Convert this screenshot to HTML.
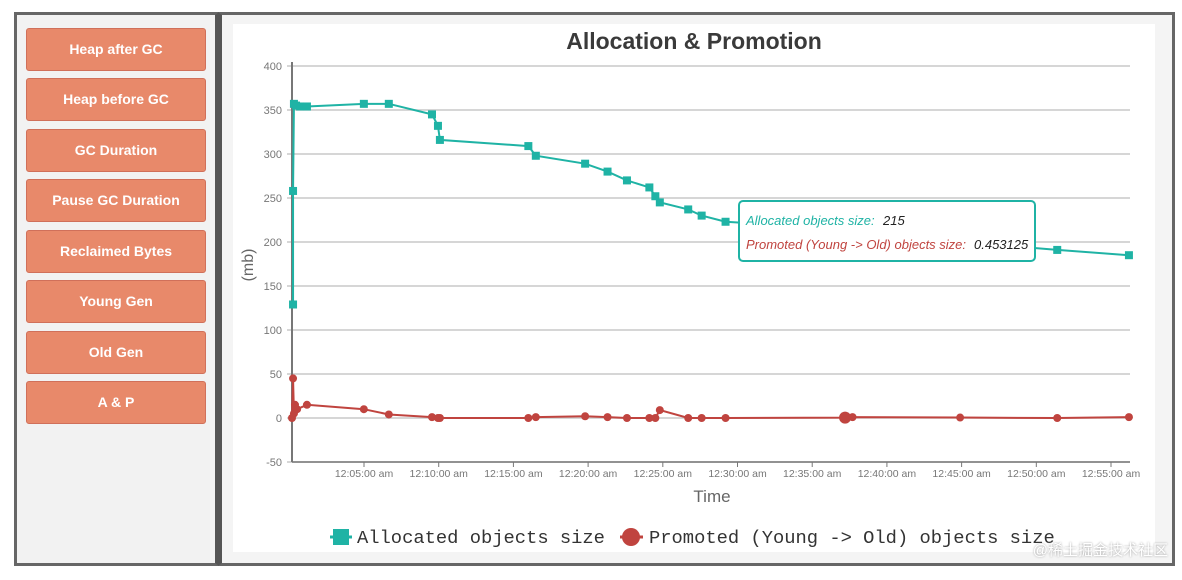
<!DOCTYPE html>
<html><head><meta charset="utf-8"><style>
body{margin:0;width:1182px;height:580px;background:#fff;font-family:"Liberation Sans",sans-serif;position:relative;overflow:hidden}
#side{position:absolute;left:14px;top:12px;width:198px;height:548px;background:#f2f2f2;border:3px solid #666;border-right:4px solid #555}
.btn{position:absolute;left:9px;width:178px;height:41px;background:#e8896a;border:1px solid #d0705a;border-radius:3px;color:#fff;font-weight:bold;font-size:14px;text-align:center;line-height:41px}
#main{position:absolute;left:218px;top:12px;width:950px;height:548px;background:#f4f4f4;border:3px solid #666;border-left:4px solid #555}
#wm{position:absolute;right:14px;bottom:20px;color:#fff;font-size:15px;font-family:"Liberation Sans","Noto Sans CJK SC",sans-serif;text-shadow:0 0 2px #999}
</style></head><body>
<div id="side">
<div class="btn" style="top:13px">Heap after GC</div>
<div class="btn" style="top:63px">Heap before GC</div>
<div class="btn" style="top:114px">GC Duration</div>
<div class="btn" style="top:164px">Pause GC Duration</div>
<div class="btn" style="top:215px">Reclaimed Bytes</div>
<div class="btn" style="top:265px">Young Gen</div>
<div class="btn" style="top:316px">Old Gen</div>
<div class="btn" style="top:366px">A &amp; P</div>
</div>
<div id="main"></div>
<svg id="chart" width="1182" height="580" style="position:absolute;left:0;top:0">
<rect x="233" y="24" width="922" height="528" fill="#fff"/>
</svg>
<div id="wm">@稀土掘金技术社区</div>
<script>
const allocMin=[0.25,0.25,0.31,0.45,0.72,1.18,4.99,6.66,9.55,9.95,10.08,16.0,16.5,19.8,21.3,22.6,24.1,24.5,24.8,26.7,27.6,29.2,37.2,37.7,44.9,51.4,56.2];
const allocVal=[129,258,357,355,354,354,357,357,345,332,316,309,298,289,280,270,262,252,245,237,230,223,215,214,200,191,185];
const promMin=[0.18,0.25,0.31,0.38,0.52,1.18,4.99,6.66,9.55,9.95,10.08,16.0,16.5,19.8,21.3,22.6,24.1,24.5,24.8,26.7,27.6,29.2,37.2,37.7,44.9,51.4,56.2];
const promVal=[0,45,5,15,10,15,10,4,1,0,0,0,1,2,1,0,0,0,9,0,0,0,0.45,1,0.5,0,1];
const yTicks=[400,350,300,250,200,150,100,50,0,-50];
const xTickMin=[5,10,15,20,25,30,35,40,45,50,55];
const xTickLabels=["12:05:00 am","12:10:00 am","12:15:00 am","12:20:00 am","12:25:00 am","12:30:00 am","12:35:00 am","12:40:00 am","12:45:00 am","12:50:00 am","12:55:00 am"];
const svg=document.getElementById('chart');
const NS='http://www.w3.org/2000/svg';
const X=m=>292+(m-0.18)*14.94;
const Y=v=>418-v*0.88;
function mk(t,a,txt){const e=document.createElementNS(NS,t);for(const k in a)e.setAttribute(k,a[k]);if(txt!==undefined)e.textContent=txt;svg.appendChild(e);return e;}
let t=mk('text',{x:694,y:49,'text-anchor':'middle','font-size':23,'font-weight':'bold',fill:'#3a3a3a'},'Allocation & Promotion');


yTicks.forEach(v=>{
 let g=mk('line',{x1:287,x2:1130,y1:Y(v),y2:Y(v),stroke:'#c8c8c8','stroke-width':1.5});
 
 
 let l=mk('text',{x:282,y:Y(v)+4,'text-anchor':'end','font-size':11,fill:'#777'},v);
 
 
});
let ax=mk('line',{x1:292,x2:292,y1:62,y2:462,stroke:'#777','stroke-width':2});


let xa=mk('line',{x1:292,x2:1130,y1:462,y2:462,stroke:'#777','stroke-width':1.5});


xTickMin.forEach((m,i)=>{
 let tk=mk('line',{x1:X(m),x2:X(m),y1:462,y2:467,stroke:'#777'});
 
 
 let l=mk('text',{x:X(m),y:477,'text-anchor':'middle','font-size':10.5,fill:'#777'},xTickLabels[i]);
 
 
});
let yt=mk('text',{x:253,y:265,'text-anchor':'middle','font-size':16,fill:'#666',transform:'rotate(-90 253 265)'},'(mb)');


let xt=mk('text',{x:712,y:502,'text-anchor':'middle','font-size':17,fill:'#666'},'Time');


let pl=mk('polyline',{points:promMin.map((m,i)=>X(m)+','+Y(promVal[i])).join(' '),fill:'none',stroke:'#c0443f','stroke-width':2});


promMin.forEach((m,i)=>{
 let c=mk('circle',{cx:X(m),cy:Y(promVal[i]),r:i==22?6:4,fill:'#c0443f'});
 
 
});
let al=mk('polyline',{points:allocMin.map((m,i)=>X(m)+','+Y(allocVal[i])).join(' '),fill:'none',stroke:'#1fb3a5','stroke-width':2});


allocMin.forEach((m,i)=>{
 let r=mk('rect',{x:X(m)-4,y:Y(allocVal[i])-4,width:8,height:8,fill:'#1fb3a5'});
 
 
});
let tb=mk('rect',{x:739,y:201,width:296,height:60,rx:4,fill:'#fff',stroke:'#1fb3a5','stroke-width':2});


let t1=mk('text',{x:746,y:225,'font-size':13,'font-style':'italic',fill:'#1fb3a5'},'Allocated objects size:');


let t1v=mk('text',{x:883,y:225,'font-size':13,'font-style':'italic',fill:'#222'},'215');


let t2=mk('text',{x:746,y:249,'font-size':13,'font-style':'italic',fill:'#c0443f'},'Promoted (Young -> Old) objects size:');


let t2v=mk('text',{x:974,y:249,'font-size':13,'font-style':'italic',fill:'#222'},'0.453125');


// legend
let lg1l=mk('line',{x1:330,x2:352,y1:537,y2:537,stroke:'#1fb3a5','stroke-width':3});


let lg1=mk('rect',{x:333,y:529,width:16,height:16,fill:'#1fb3a5'});


let lt1=mk('text',{x:357,y:543,'font-size':18.8,'font-family':'Liberation Mono, monospace',fill:'#333'},'Allocated objects size');


let lg2l=mk('line',{x1:620,x2:643,y1:537,y2:537,stroke:'#c0443f','stroke-width':3});


let lg2=mk('circle',{cx:631,cy:537,r:9,fill:'#c0443f'});


let lt2=mk('text',{x:649,y:543,'font-size':18.8,'font-family':'Liberation Mono, monospace',fill:'#333'},'Promoted (Young -> Old) objects size');


</script>
</body></html>
